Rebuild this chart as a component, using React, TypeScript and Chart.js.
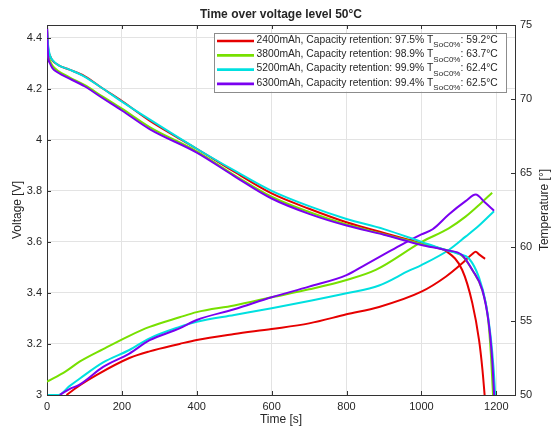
import React, { useEffect, useRef } from "react";
import { Chart, registerables } from "chart.js";

Chart.register(...registerables);

const TITLE = "Time over voltage level 50°C";
const X_TITLE = "Time [s]";
const Y_TITLE = "Voltage [V]";
const Y1_TITLE = "Temperature [°]";

const TIME_TICKS = [0, 200, 400, 600, 800, 1000, 1200];
const VOLT_TICKS = [3, 3.2, 3.4, 3.6, 3.8, 4, 4.2, 4.4];
const TEMP_TICKS = [50, 55, 60, 65, 70, 75];

const SERIES_NAMES = ["2400mAh", "3800mAh", "5200mAh", "6300mAh"];
const RETENTION = ["97.5%", "98.9%", "99.9%", "99.4%"];
const T_SOC0 = ["59.2°C", "63.7°C", "62.4°C", "62.5°C"];
const COLORS = ["#e60000", "#77e000", "#00e0e0", "#7a00f0"];

// Voltage curves (time s, voltage V)
const redVoltT = [0, 3, 8, 15, 30, 60, 100, 150, 200, 274, 400, 500, 600, 700, 800, 900, 1000, 1040, 1065, 1109, 1136, 1154, 1163, 1170];
const redVoltV = [4.44, 4.36, 4.33, 4.31, 4.293, 4.275, 4.25, 4.2, 4.152, 4.075, 3.965, 3.875, 3.79, 3.73, 3.677, 3.635, 3.595, 3.578, 3.565, 3.49, 3.36, 3.215, 3.1, 2.98];

const greenVoltT = [0, 3, 8, 15, 30, 60, 100, 150, 200, 274, 400, 500, 600, 700, 800, 900, 1000, 1065, 1109, 1136, 1163, 1178, 1186, 1192];
const greenVoltV = [4.43, 4.34, 4.31, 4.29, 4.27, 4.245, 4.215, 4.168, 4.122, 4.05, 3.955, 3.862, 3.777, 3.717, 3.668, 3.63, 3.592, 3.568, 3.545, 3.49, 3.41, 3.3, 3.15, 2.98];

const cyanVoltT = [0, 3, 8, 15, 30, 60, 100, 150, 200, 274, 400, 500, 600, 700, 800, 900, 1000, 1050, 1100, 1127, 1154, 1172, 1185, 1193, 1198];
const cyanVoltV = [4.44, 4.37, 4.33, 4.312, 4.293, 4.275, 4.248, 4.2, 4.15, 4.08, 3.965, 3.88, 3.8, 3.74, 3.69, 3.65, 3.6, 3.575, 3.553, 3.535, 3.46, 3.36, 3.23, 3.1, 2.98];

const purpleVoltT = [0, 3, 8, 15, 30, 60, 100, 150, 200, 274, 400, 500, 600, 700, 800, 900, 1000, 1065, 1109, 1136, 1163, 1180, 1189, 1195];
const purpleVoltV = [4.45, 4.33, 4.3, 4.28, 4.263, 4.24, 4.21, 4.162, 4.115, 4.042, 3.95, 3.858, 3.77, 3.71, 3.664, 3.628, 3.588, 3.568, 3.548, 3.49, 3.41, 3.28, 3.14, 2.98];

// Temperature curves (time s, temperature °C)
const redTempT = [52, 90, 132, 220, 274, 354, 400, 500, 600, 700, 800, 887, 1000, 1065, 1109, 1136, 1145, 1154, 1170];
const redTempV = [50.0, 50.7, 51.35, 52.5, 52.95, 53.45, 53.72, 54.12, 54.46, 54.84, 55.45, 55.95, 56.98, 57.99, 58.9, 59.53, 59.68, 59.5, 59.2];

const greenTempT = [0, 50, 87, 150, 220, 274, 354, 400, 500, 600, 700, 800, 878, 1002, 1073, 1118, 1154, 1189];
const greenTempV = [50.9, 51.6, 52.25, 53.1, 54.0, 54.6, 55.25, 55.6, 56.05, 56.6, 57.14, 57.77, 58.45, 60.36, 61.26, 62.05, 62.84, 63.67];

const cyanTempT = [0, 30, 60, 87, 150, 220, 274, 354, 400, 500, 600, 700, 800, 887, 967, 1000, 1073, 1118, 1154, 1194];
const cyanTempV = [50.0, 50.0, 50.6, 51.1, 52.2, 53.04, 53.83, 54.6, 54.95, 55.41, 55.86, 56.35, 56.87, 57.4, 58.4, 58.78, 59.8, 60.7, 61.45, 62.42];

const purpleTempT = [34, 60, 87, 150, 220, 274, 354, 400, 500, 600, 700, 800, 850, 900, 950, 1000, 1030, 1073, 1118, 1145, 1170, 1194];
const purpleTempV = [50.0, 50.4, 50.7, 51.9, 52.8, 53.7, 54.5, 55.07, 55.79, 56.6, 57.32, 58.1, 58.8, 59.5, 60.2, 60.85, 61.2, 62.2, 63.1, 63.55, 63.0, 62.45];

const pts = (t: number[], v: number[]) => t.map((x, i) => ({ x, y: v[i] }));

const FONT = "'Liberation Sans', Arial, sans-serif";
const TEXT = "#262626";
const AXIS = "#333333";

const decorPlugin = {
  id: "decor",
  afterDraw(chart: any) {
    const { ctx, chartArea } = chart;
    const { left, right, top, bottom } = chartArea;
    const x = chart.scales.x;
    const y = chart.scales.y;
    const y1 = chart.scales.y1;
    ctx.save();
    ctx.strokeStyle = AXIS;
    ctx.lineWidth = 1;
    ctx.beginPath();
    ctx.moveTo(left, top + 0.5);
    ctx.lineTo(right, top + 0.5);
    ctx.stroke();
    const L = 4;
    ctx.beginPath();
    TIME_TICKS.forEach((v) => {
      const px = Math.round(x.getPixelForValue(v)) + 0.5;
      ctx.moveTo(px, bottom);
      ctx.lineTo(px, bottom - L);
      ctx.moveTo(px, top);
      ctx.lineTo(px, top + L);
    });
    VOLT_TICKS.forEach((v) => {
      const py = Math.round(y.getPixelForValue(v)) + 0.5;
      ctx.moveTo(left, py);
      ctx.lineTo(left + L, py);
    });
    TEMP_TICKS.forEach((v) => {
      const py = Math.round(y1.getPixelForValue(v)) + 0.5;
      ctx.moveTo(right, py);
      ctx.lineTo(right - L, py);
    });
    ctx.stroke();

    ctx.fillStyle = TEXT;
    ctx.font = `bold 12px ${FONT}`;
    ctx.textAlign = "center";
    ctx.textBaseline = "middle";
    ctx.fillText(TITLE, (left + right) / 2, 15);

    // right axis title, reading bottom to top
    ctx.save();
    ctx.translate(545, (top + bottom) / 2);
    ctx.rotate(-Math.PI / 2);
    ctx.font = `12px ${FONT}`;
    ctx.fillText(Y1_TITLE, 0, 0);
    ctx.restore();

    // legend
    const bx = right - 9;
    const boxL = 214;
    const boxT = top + 8;
    const rowH = 14.3;
    const boxH = 58.5;
    ctx.fillStyle = "#ffffff";
    ctx.fillRect(boxL, boxT, bx - boxL, boxH);
    ctx.strokeStyle = "#8c8c8c";
    ctx.lineWidth = 1;
    ctx.strokeRect(Math.round(boxL) + 0.5, Math.round(boxT) + 0.5, Math.round(bx - boxL), Math.round(boxH));
    ctx.textAlign = "left";
    ctx.textBaseline = "middle";
    SERIES_NAMES.forEach((name, i) => {
      const cy = boxT + 7 + i * rowH;
      ctx.strokeStyle = COLORS[i];
      ctx.lineWidth = 2.7;
      ctx.beginPath();
      ctx.moveTo(boxL + 3, cy + 1);
      ctx.lineTo(boxL + 40, cy + 1);
      ctx.stroke();
      ctx.fillStyle = TEXT;
      ctx.font = `10.3px ${FONT}`;
      let tx = boxL + 42.5;
      const main = `${name}, Capacity retention: ${RETENTION[i]} T`;
      ctx.fillText(main, tx, cy);
      tx += ctx.measureText(main).width;
      ctx.font = `8px ${FONT}`;
      const sub = "SoC0%";
      ctx.fillText(sub, tx, cy + 5);
      tx += ctx.measureText(sub).width;
      ctx.font = `10.3px ${FONT}`;
      ctx.fillText(`: ${T_SOC0[i]}`, tx, cy);
    });
    ctx.restore();
  },
};

export default function App() {
  const ref = useRef<HTMLCanvasElement | null>(null);
  useEffect(() => {
    if (!ref.current) return;
    const mk = (label: string, data: any[], color: string, axis: string) => ({
      label,
      data,
      borderColor: color,
      backgroundColor: color,
      borderWidth: 2,
      pointRadius: 0,
      cubicInterpolationMode: "monotone",
      yAxisID: axis,
      fill: false,
    });
    const chart = new Chart(ref.current, {
      type: "line",
      data: {
        datasets: [
          mk("6300 V", pts(purpleVoltT, purpleVoltV), COLORS[3], "y"),
          mk("5200 V", pts(cyanVoltT, cyanVoltV), COLORS[2], "y"),
          mk("3800 V", pts(greenVoltT, greenVoltV), COLORS[1], "y"),
          mk("2400 V", pts(redVoltT, redVoltV), COLORS[0], "y"),
          mk("6300 T", pts(purpleTempT, purpleTempV), COLORS[3], "y1"),
          mk("5200 T", pts(cyanTempT, cyanTempV), COLORS[2], "y1"),
          mk("3800 T", pts(greenTempT, greenTempV), COLORS[1], "y1"),
          mk("2400 T", pts(redTempT, redTempV), COLORS[0], "y1"),
        ],
      },
      options: {
        responsive: false,
        animation: false,
        layout: { padding: { top: 25, left: 0, right: 0, bottom: 0 } },
        plugins: {
          legend: { display: false },
          title: { display: false },
          tooltip: { enabled: false },
        },
        scales: {
          x: {
            type: "linear",
            min: 0,
            max: 1250,
            afterBuildTicks: (s: any) => {
              s.ticks = TIME_TICKS.map((v) => ({ value: v }));
            },
            afterFit: (s: any) => {
              s.height = 35;
            },
            grid: { color: "#e3e3e3", drawTicks: false },
            border: { color: AXIS },
            ticks: {
              color: TEXT,
              font: { family: FONT, size: 11 },
              padding: 5,
              maxRotation: 0,
              callback: (v: any) => String(v),
            },
            title: {
              display: true,
              text: X_TITLE,
              color: TEXT,
              font: { family: FONT, size: 12 },
              padding: { top: 0, bottom: 3 },
            },
          },
          y: {
            type: "linear",
            position: "left",
            min: 3,
            max: 4.45,
            afterBuildTicks: (s: any) => {
              s.ticks = VOLT_TICKS.map((v) => ({ value: v }));
            },
            afterFit: (s: any) => {
              s.width = 47;
            },
            grid: { color: "#e3e3e3", drawTicks: false },
            border: { color: AXIS },
            ticks: {
              color: TEXT,
              font: { family: FONT, size: 11 },
              padding: 5,
              callback: (v: any) => String(Math.round(Number(v) * 10) / 10),
            },
            title: {
              display: true,
              text: Y_TITLE,
              color: TEXT,
              font: { family: FONT, size: 12 },
              padding: { top: 10, bottom: 0 },
            },
          },
          y1: {
            type: "linear",
            position: "right",
            min: 50,
            max: 75,
            afterBuildTicks: (s: any) => {
              s.ticks = TEMP_TICKS.map((v) => ({ value: v }));
            },
            afterFit: (s: any) => {
              s.width = 38;
            },
            grid: { display: false, drawTicks: false },
            border: { color: AXIS },
            ticks: {
              color: TEXT,
              font: { family: FONT, size: 11 },
              padding: 5,
            },
            title: { display: false },
          },
        },
      },
      plugins: [decorPlugin],
    } as any);
    return () => chart.destroy();
  }, []);
  return (
    <div style={{ position: "absolute", left: 0, top: 0, width: 553, height: 430, background: "#fff" }}>
      <canvas ref={ref} width={553} height={430} />
    </div>
  );
}
